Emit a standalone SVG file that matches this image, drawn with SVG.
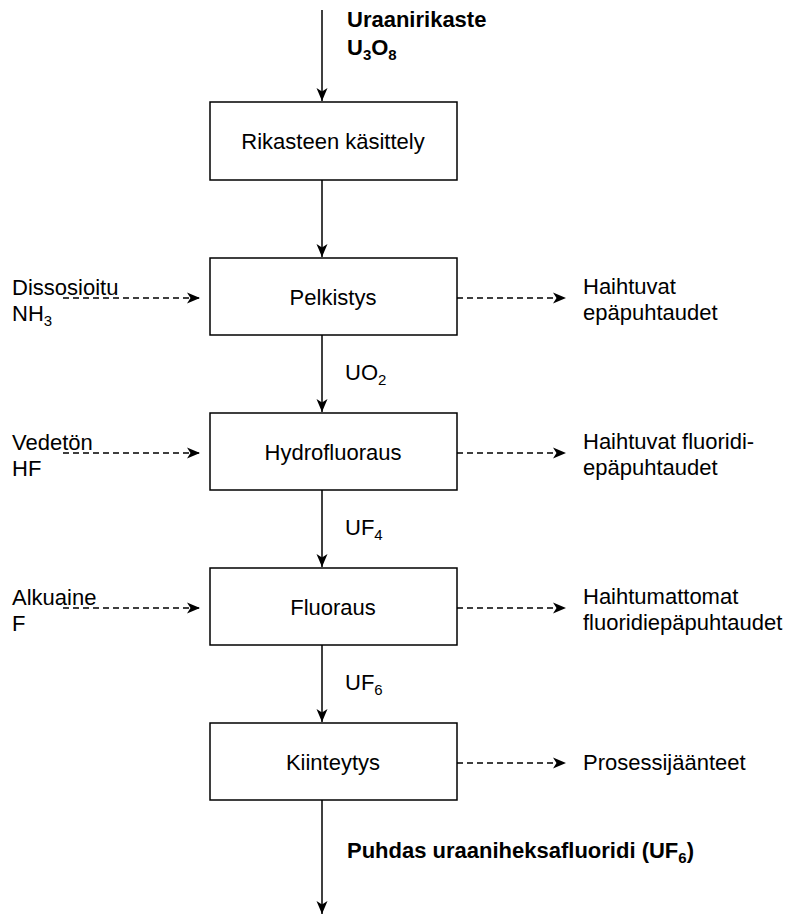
<svg xmlns="http://www.w3.org/2000/svg" width="787" height="918" viewBox="0 0 787 918">
<style>
text{font-family:"Liberation Sans",Arial,sans-serif;font-size:22px;fill:#000}
.b{font-weight:bold}
.c{text-anchor:middle}
.box{fill:#fff;stroke:#000;stroke-width:1.5}
.s{stroke:#000;stroke-width:1.5;fill:none}
.d{stroke:#000;stroke-width:1.5;fill:none;stroke-dasharray:6 4}
</style>
<defs>
<marker id="ah" markerWidth="14" markerHeight="12" refX="13" refY="6" orient="auto" markerUnits="userSpaceOnUse">
<path d="M0,0.5 L13,6 L0,11.5 L3.5,6 Z" fill="#000"/>
</marker>
</defs>
<g id="connectors">
<line class="s" x1="322" y1="10" x2="322" y2="101" marker-end="url(#ah)"/>
<line class="s" x1="322" y1="180" x2="322" y2="257" marker-end="url(#ah)"/>
<line class="s" x1="322" y1="335" x2="322" y2="412" marker-end="url(#ah)"/>
<line class="s" x1="322" y1="490" x2="322" y2="567" marker-end="url(#ah)"/>
<line class="s" x1="322" y1="645" x2="322" y2="722" marker-end="url(#ah)"/>
<line class="s" x1="322" y1="800" x2="322" y2="914" marker-end="url(#ah)"/>
<line class="d" x1="63" y1="298" x2="200" y2="298" marker-end="url(#ah)"/>
<line class="d" x1="63" y1="453" x2="200" y2="453" marker-end="url(#ah)"/>
<line class="d" x1="63" y1="608" x2="200" y2="608" marker-end="url(#ah)"/>
<line class="d" x1="457" y1="298" x2="566" y2="298" marker-end="url(#ah)"/>
<line class="d" x1="457" y1="453" x2="566" y2="453" marker-end="url(#ah)"/>
<line class="d" x1="457" y1="608" x2="566" y2="608" marker-end="url(#ah)"/>
<line class="d" x1="457" y1="763" x2="566" y2="763" marker-end="url(#ah)"/>
</g>
<g id="n1"><rect class="box" x="210" y="102" width="247" height="78"/><text class="c" x="333" y="149">Rikasteen käsittely</text></g>
<g id="n2"><rect class="box" x="210" y="258" width="247" height="77"/><text class="c" x="333" y="305">Pelkistys</text></g>
<g id="n3"><rect class="box" x="210" y="413" width="247" height="77"/><text class="c" x="333" y="460">Hydrofluoraus</text></g>
<g id="n4"><rect class="box" x="210" y="568" width="247" height="77"/><text class="c" x="333" y="615">Fluoraus</text></g>
<g id="n5"><rect class="box" x="210" y="723" width="247" height="77"/><text class="c" x="333" y="770">Kiinteytys</text></g>
<g id="labels">
<text class="b" x="347" y="27">Uraanirikaste</text>
<text class="b" x="347" y="55">U<tspan font-size="15" dy="5">3</tspan><tspan dy="-5">O</tspan><tspan font-size="15" dy="5">8</tspan></text>
<text x="12" y="295">Dissosioitu</text>
<text x="12" y="321">NH<tspan font-size="15" dy="5">3</tspan></text>
<text x="583" y="294">Haihtuvat</text>
<text x="583" y="320">epäpuhtaudet</text>
<text x="345" y="380">UO<tspan font-size="15" dy="5">2</tspan></text>
<text x="12" y="450">Vedetön</text>
<text x="12" y="476">HF</text>
<text x="583" y="449">Haihtuvat fluoridi-</text>
<text x="583" y="475">epäpuhtaudet</text>
<text x="345" y="535">UF<tspan font-size="15" dy="5">4</tspan></text>
<text x="12" y="605">Alkuaine</text>
<text x="12" y="631">F</text>
<text x="583" y="604">Haihtumattomat</text>
<text x="583" y="630">fluoridiepäpuhtaudet</text>
<text x="345" y="690">UF<tspan font-size="15" dy="5">6</tspan></text>
<text x="583" y="770">Prosessijäänteet</text>
<text class="b" x="347" y="858">Puhdas uraaniheksafluoridi (UF<tspan font-size="15" dy="5">6</tspan><tspan dy="-5">)</tspan></text>
</g>
</svg>
